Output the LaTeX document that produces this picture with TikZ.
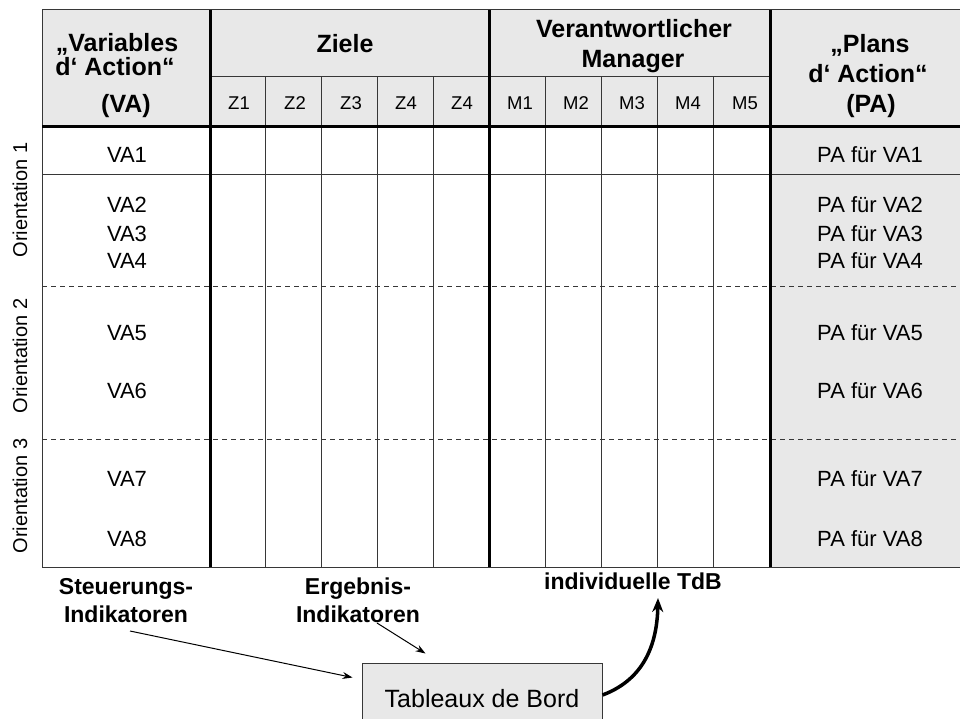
\documentclass[tikz,border=0pt]{standalone}
\usepackage{fontspec}
\setmainfont{Liberation Sans}
\usetikzlibrary{arrows.meta,calc}
\definecolor{hdrfill}{RGB}{232,232,232}
\definecolor{rulecol}{RGB}{55,55,55}
\begin{document}
\begin{tikzpicture}[x=1pt,y=-1pt,
  thinrule/.style={draw=rulecol,line width=1pt},
  thickrule/.style={draw=black,line width=3pt},
  sepline/.style={draw=rulecol,line width=0.9pt,dash pattern=on 5pt off 4pt},
  hdr/.style={font=\fontsize{25}{28}\selectfont\bfseries,anchor=base,inner sep=0pt},
  sub/.style={font=\fontsize{18.5}{21}\selectfont,anchor=base,inner sep=0pt},
  cell/.style={font=\fontsize{22}{26}\selectfont,anchor=base,inner sep=0pt},
  orient/.style={font=\fontsize{20}{24}\selectfont,rotate=90,inner sep=0pt},
  caption/.style={font=\fontsize{23}{26}\selectfont\bfseries,anchor=base,inner sep=0pt},
  feed/.style={draw=black,line width=1pt,-{Stealth[length=10pt,width=7pt]}},
  bigfeed/.style={draw=black,line width=3.5pt,-{Stealth[length=14pt,width=11pt]}},
  boardbox/.style={draw=rulecol,fill=hdrfill,line width=1pt,minimum width=240pt,
    minimum height=72pt,font=\fontsize{25}{28}\selectfont,inner sep=0pt}
]
\useasboundingbox (0,0) rectangle (960,719);
\clip (0,0) rectangle (960,719);

% shaded header row and action-plan column
\fill[hdrfill] (42,10) rectangle (975,127);
\fill[hdrfill] (770,127) rectangle (975,567);

% grid
\draw[thinrule] (975,10) -- (42,10) -- (42,567) -- (975,567);
\draw[thinrule] (210,77) -- (770,77);
\foreach \x in {265.8,321.6,377.4,433.2,545.2,601.4,657.6,713.8}
  \draw[thinrule] (\x,77) -- (\x,567);
\draw[thinrule] (42,175) -- (975,175);
\draw[sepline] (42,286) -- (975,286);
\draw[sepline] (42,439) -- (975,439);
\draw[thickrule] (42,127) -- (975,127);
\foreach \x in {210,489,770}
  \draw[thickrule] (\x,10) -- (\x,567);

% header texts
\node[hdr] (va1h) at (117,52) {„Variables};
\node[hdr] (va2h) at (115,75.5) {d‘ Action“};
\node[hdr] (va3h) at (126,113) {(VA)};
\node[hdr] (ziele) at (345,53) {Ziele};
\node[hdr] (mgr1) at (634,38) {Verantwortlicher};
\node[hdr] (mgr2) at (633,68) {Manager};
\node[hdr] (pa1h) at (870,53) {„Plans};
\node[hdr] (pa2h) at (868,83) {d‘ Action“};
\node[hdr] (pa3h) at (871,113) {(PA)};

% sub-column labels
\node[sub] (z1) at (239,110) {Z1};
\node[sub] (z2) at (295,110) {Z2};
\node[sub] (z3) at (351,110) {Z3};
\node[sub] (z4) at (406,110) {Z4};
\node[sub] (z5) at (462,110) {Z4};
\node[sub] (m1) at (520,110) {M1};
\node[sub] (m2) at (576,110) {M2};
\node[sub] (m3) at (632,110) {M3};
\node[sub] (m4) at (688,110) {M4};
\node[sub] (m5) at (745,110) {M5};

% orientation labels
\node[orient] (or1) at (20,200) {Orientation 1};
\node[orient] (or2) at (20,356) {Orientation 2};
\node[orient] (or3) at (20,496) {Orientation 3};

% variables and plans
\foreach \i/\y in {1/163,2/213,3/241,4/268,5/340,6/398,7/486,8/546}{
  \node[cell] (va\i) at (127,\y) {VA\i};
  \node[cell] (pa\i) at (870,\y) {PA für VA\i};
}

% indicator captions
\node[caption] (steu1) at (126,594) {Steuerungs-};
\node[caption] (steu2) at (126,622) {Indikatoren};
\node[caption] (erg1) at (358,594) {Ergebnis-};
\node[caption] (erg2) at (358,622) {Indikatoren};
\node[caption] (indiv) at (633,589) {individuelle TdB};

% dashboard box
\node[boardbox] (board) at (482,699) {Tableaux de Bord};

% connectors
\coordinate (steuEnd) at (130,631);
\coordinate (ergEnd) at (377,623);
\coordinate (indivTip) at (658,598);
\draw[feed] (steuEnd) -- ($(board.north west)+(-9,15)$);
\draw[feed] (ergEnd) -- ($(board.north west)+(64,-9)$);
\draw[bigfeed] ($(board.east)+(0,-4)$) .. controls (640,681) and (657,650) .. (indivTip);
\end{tikzpicture}
\end{document}
